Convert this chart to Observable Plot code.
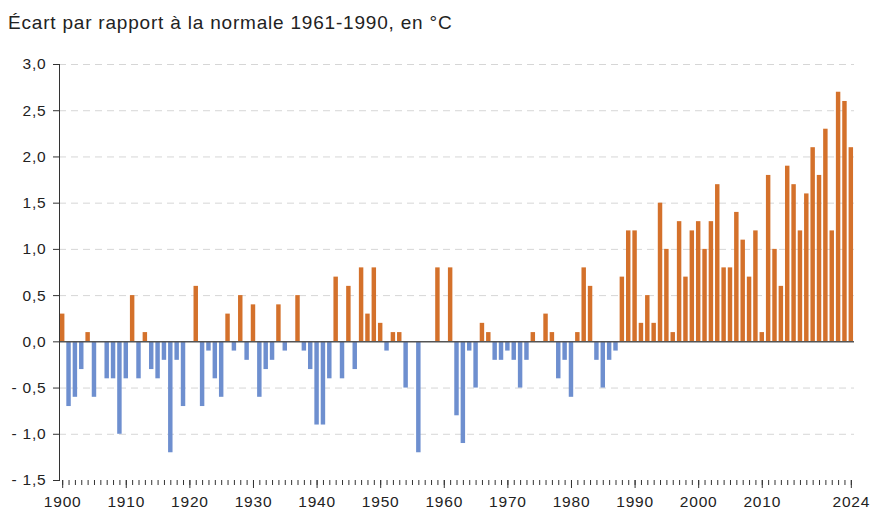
<!DOCTYPE html>
<html>
<head>
<meta charset="utf-8">
<script src="https://cdn.jsdelivr.net/npm/d3@7"></script>
<script src="https://cdn.jsdelivr.net/npm/@observablehq/plot@0.6"></script>
<style>
  body { margin: 0; background: #fff; font-family: "Liberation Sans", Arial, Helvetica, sans-serif; }
  #title { height: 31px; padding-top: 13px; padding-left: 8px; font-size: 19px; letter-spacing: 0.8px; line-height: 1; color: #222; }
  #chart svg text { letter-spacing: 0.8px; }
</style>
</head>
<body>
<div id="title">Écart par rapport à la normale 1961-1990, en °C</div>
<div id="chart"></div>
<script>
const firstYear = 1900;
const lastYear = 2024;
const years = d3.range(firstYear, lastYear + 1);
const anomalies = [
  // 1900-1909
  0.3, -0.7, -0.6, -0.3, 0.1, -0.6, 0, -0.4, -0.4, -1.0,
  // 1910-1919
  -0.4, 0.5, -0.4, 0.1, -0.3, -0.4, -0.2, -1.2, -0.2, -0.7,
  // 1920-1929
  0, 0.6, -0.7, -0.1, -0.4, -0.6, 0.3, -0.1, 0.5, -0.2,
  // 1930-1939
  0.4, -0.6, -0.3, -0.2, 0.4, -0.1, 0, 0.5, -0.1, -0.3,
  // 1940-1949
  -0.9, -0.9, -0.4, 0.7, -0.4, 0.6, -0.3, 0.8, 0.3, 0.8,
  // 1950-1959
  0.2, -0.1, 0.1, 0.1, -0.5, 0, -1.2, 0, 0, 0.8,
  // 1960-1969
  0, 0.8, -0.8, -1.1, -0.1, -0.5, 0.2, 0.1, -0.2, -0.2,
  // 1970-1979
  -0.1, -0.2, -0.5, -0.2, 0.1, 0, 0.3, 0.1, -0.4, -0.2,
  // 1980-1989
  -0.6, 0.1, 0.8, 0.6, -0.2, -0.5, -0.2, -0.1, 0.7, 1.2,
  // 1990-1999
  1.2, 0.2, 0.5, 0.2, 1.5, 1.0, 0.1, 1.3, 0.7, 1.2,
  // 2000-2009
  1.3, 1.0, 1.3, 1.7, 0.8, 0.8, 1.4, 1.1, 0.7, 1.2,
  // 2010-2019
  0.1, 1.8, 1.0, 0.6, 1.9, 1.7, 1.2, 1.6, 2.1, 1.8,
  // 2020-2024
  2.3, 1.2, 2.7, 2.6, 2.1
];
const xTickLabels = [1900, 1910, 1920, 1930, 1940, 1950, 1960, 1970, 1980, 1990, 2000, 2010, 2024];
const yTicks = [-1.5, -1.0, -0.5, 0, 0.5, 1.0, 1.5, 2.0, 2.5, 3.0];
const warmColor = "#d4712b";
const coldColor = "#6e8fcf";

const data = years.map((year, i) => ({year, value: anomalies[i]}));
const fmt = d => (d < 0 ? "- " : "") + Math.abs(d).toFixed(1).replace(".", ",");

const chart = Plot.plot({
  width: 874,
  height: 466,
  marginLeft: 59,
  marginRight: 20,
  marginTop: 20,
  marginBottom: 30,
  style: {fontFamily: "'Liberation Sans', Arial, Helvetica, sans-serif", color: "#222", background: "#fff"},
  x: {type: "band", domain: years, paddingInner: 0.3, paddingOuter: 0.15, axis: null},
  y: {domain: [-1.5, 3], axis: null},
  marks: [
    Plot.gridY(yTicks.filter(d => d !== 0 && d !== -1.5), {stroke: "#d6d6d6", strokeOpacity: 1, strokeDasharray: "7,5", strokeWidth: 1}),
    Plot.barY(data.filter(d => d.value !== 0), {x: "year", y: "value", fill: d => d.value >= 0 ? warmColor : coldColor}),
    Plot.ruleY([0], {stroke: "#555", strokeWidth: 1.5}),
    Plot.frame({anchor: "left", stroke: "#333", strokeWidth: 1}),
    Plot.axisY({ticks: yTicks, tickSize: 6, tickPadding: 7, tickFormat: fmt, fontSize: 15.5, label: null, stroke: "#333"}),
    Plot.axisX({ticks: years, tickSize: 5, tickFormat: () => "", label: null, stroke: "#333"}),
    Plot.axisX({ticks: xTickLabels, tickSize: 8, tickPadding: 7, tickFormat: d => String(d), fontSize: 15.5, label: null, stroke: "#333"})
  ]
});
document.getElementById("chart").appendChild(chart);
</script>
</body>
</html>
